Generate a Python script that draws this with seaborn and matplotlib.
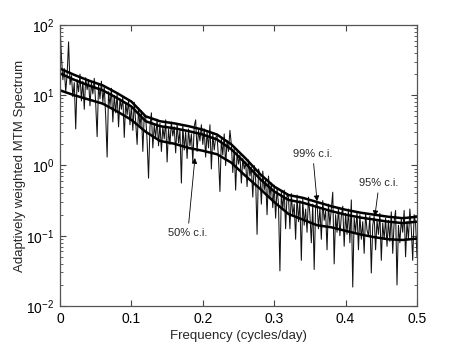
import numpy as np
import matplotlib
matplotlib.use("Agg")
import matplotlib.pyplot as plt
import seaborn as sns

# ================= DATA (log10 of spectrum) =================
freq_step = 0.002
spec_log10 = [
    2.00, 1.55, 1.22, 1.38, 1.05, 1.30, 1.76, 1.15, 1.28, 0.98,
    1.18, 0.52, 1.22, 1.05, 1.30, 0.92, 1.20, 0.80, 1.25, 1.08,
    1.22, 0.85, 1.18, 1.02, 1.24, 0.88, 0.41, 1.15, 0.95, 1.20,
    0.90, 1.12, 0.70, 0.12, 1.05, 0.85, 1.10, 0.62, 1.00, 0.75,
    1.02, 0.55, 0.95, 0.80, 0.98, 0.40, 0.90, 0.72, 0.93, 0.58,
    0.85, 0.50, 0.90, 0.62, 0.30, 0.82, 0.55, 0.78, 0.20, 0.72,
    0.70, 0.35, -0.18, 0.55, 0.75, 0.25, 0.58, 0.40, 0.66, 0.28,
    0.60, 0.20, 0.55, 0.38, 0.65, 0.05, 0.52, 0.30, 0.62, 0.42,
    0.55, 0.18, 0.60, 0.32, 0.50, -0.25, 0.58, 0.22, 0.48, 0.10,
    0.52, 0.28, 0.45, 0.05, 0.56, 0.65, 0.20, 0.50, 0.35, 0.58,
    0.30, 0.52, 0.12, 0.48, 0.25, 0.58, -0.05, 0.45, 0.22, 0.40,
    0.42, 0.10, -0.37, 0.38, 0.15, 0.45, 0.00, 0.35, 0.20, 0.50,
    0.30, -0.10, 0.25, -0.35, 0.20, 0.02, 0.15, -0.25, 0.10, -0.05,
    0.05, -0.30, 0.08, -0.15, -0.02, -0.45, 0.00, -0.20, -0.98, -0.05,
    -0.12, -0.55, -0.08, -0.35, -0.20, -0.70, -0.15, -0.45, -0.25, -0.60,
    -0.28, -0.75, -0.32, -0.55, -1.50, -0.38, -0.62, -0.35, -0.90, -0.42,
    -0.45, -0.90, -0.40, -0.72, -0.55, -1.05, -0.42, -0.80, -0.50, -1.35,
    -0.48, -0.85, -0.62, -0.95, -0.45, -0.70, -1.10, -0.55, -1.48, -0.58,
    -0.52, -0.90, -0.60, -1.05, -0.50, -0.78, -0.65, -1.20, -0.55, -0.85,
    -0.62, -0.38, -1.40, -0.70, -0.95, -0.60, -1.00, -0.72, -0.58, -1.15,
    -0.68, -0.98, -0.62, -1.10, -0.49, -1.73, -0.75, -0.95, -0.66, -1.20,
    -0.70, -1.05, -0.80, -1.25, -0.68, -0.92, -1.00, -0.72, -1.53, -0.85,
    -0.72, -1.20, -0.78, -0.98, -0.68, -1.35, -0.82, -1.05, -0.75, -1.15,
    -0.78, -1.08, -0.66, -1.25, -0.80, -0.64, -1.70, -0.85, -1.10, -0.76,
    -0.95, -0.64, -1.30, -0.80, -1.05, -0.62, -0.90, -1.35, -0.70, -0.82,
    -1.30,
]

# confidence levels, every 0.02 cycles/day
ci_freq = [0.00, 0.02, 0.04, 0.06, 0.08, 0.10, 0.12, 0.14, 0.16, 0.18, 0.20, 0.22, 0.24,
           0.26, 0.28, 0.30, 0.32, 0.34, 0.36, 0.38, 0.40, 0.42, 0.44, 0.46, 0.48, 0.50]
ci50_log10 = [1.07, 1.00, 0.94, 0.88, 0.77, 0.65, 0.48, 0.35, 0.31, 0.25, 0.21, 0.16, 0.04,
              -0.15, -0.33, -0.52, -0.69, -0.77, -0.85, -0.88, -0.93, -0.98, -1.02, -1.05, -1.06, -1.04]
ci95_log10 = [1.31, 1.22, 1.14, 1.07, 0.96, 0.84, 0.63, 0.56, 0.53, 0.49, 0.44, 0.37, 0.23,
              0.03, -0.19, -0.37, -0.49, -0.53, -0.59, -0.65, -0.70, -0.74, -0.77, -0.80, -0.82, -0.80]
ci99_log10 = [1.38, 1.29, 1.21, 1.14, 1.03, 0.91, 0.70, 0.63, 0.60, 0.56, 0.51, 0.44, 0.30,
              0.10, -0.12, -0.30, -0.42, -0.46, -0.52, -0.58, -0.63, -0.67, -0.70, -0.73, -0.75, -0.73]

freq = np.arange(len(spec_log10)) * freq_step
spec = 10.0 ** np.array(spec_log10)
ci50 = 10.0 ** np.array(ci50_log10)
ci95 = 10.0 ** np.array(ci95_log10)
ci99 = 10.0 ** np.array(ci99_log10)

# ================= STYLE =================
sns.set_style("ticks")
plt.rcParams["font.family"] = ["Liberation Sans", "DejaVu Sans"]
plt.rcParams["font.size"] = 9.5

fig = plt.figure(figsize=(4.6, 3.46), dpi=100)
ax = fig.add_axes([60 / 460, 1 - 306 / 346, 357 / 460, 281 / 346])

# ================= PLOT =================
sns.lineplot(x=freq, y=spec, ax=ax, color="#111111", lw=0.75, sort=False)
for ci in (ci50, ci95, ci99):
    sns.lineplot(x=ci_freq, y=ci, ax=ax, color="black", lw=1.8, sort=False)

ax.set_yscale("log")
ax.set_xlim(0, 0.5)
ax.set_ylim(1e-2, 1e2)
ax.set_xticks([0, 0.1, 0.2, 0.3, 0.4, 0.5])
ax.set_xticklabels(["0", "0.1", "0.2", "0.3", "0.4", "0.5"])
ax.set_xlabel("Frequency (cycles/day)", fontsize=9.5, labelpad=3)
ax.set_ylabel("Adaptively weighted MTM Spectrum", fontsize=9.5, labelpad=0)

ax.tick_params(which="both", direction="in", top=True, right=True, colors="#444444",
               labelcolor="black", labelsize=10)
ax.tick_params(which="major", length=4, pad=4)
ax.tick_params(which="minor", length=2)
for s in ax.spines.values():
    s.set_color("#555555")
    s.set_linewidth(0.9)

# ================= ANNOTATIONS =================
arrow = dict(arrowstyle="-|>", color="black", lw=0.6, mutation_scale=8, shrinkA=1, shrinkB=0)
ax.annotate("50% c.i.", xy=(0.189, 1.28), xytext=(0.179, 0.11), ha="center", va="center",
            fontsize=8, arrowprops=arrow)
ax.annotate("99% c.i.", xy=(0.360, 0.31), xytext=(0.354, 1.46), ha="center", va="center",
            fontsize=8, arrowprops=arrow)
ax.annotate("95% c.i.", xy=(0.441, 0.19), xytext=(0.447, 0.56), ha="center", va="center",
            fontsize=8, arrowprops=arrow)

fig.savefig("out.png", dpi=100)
